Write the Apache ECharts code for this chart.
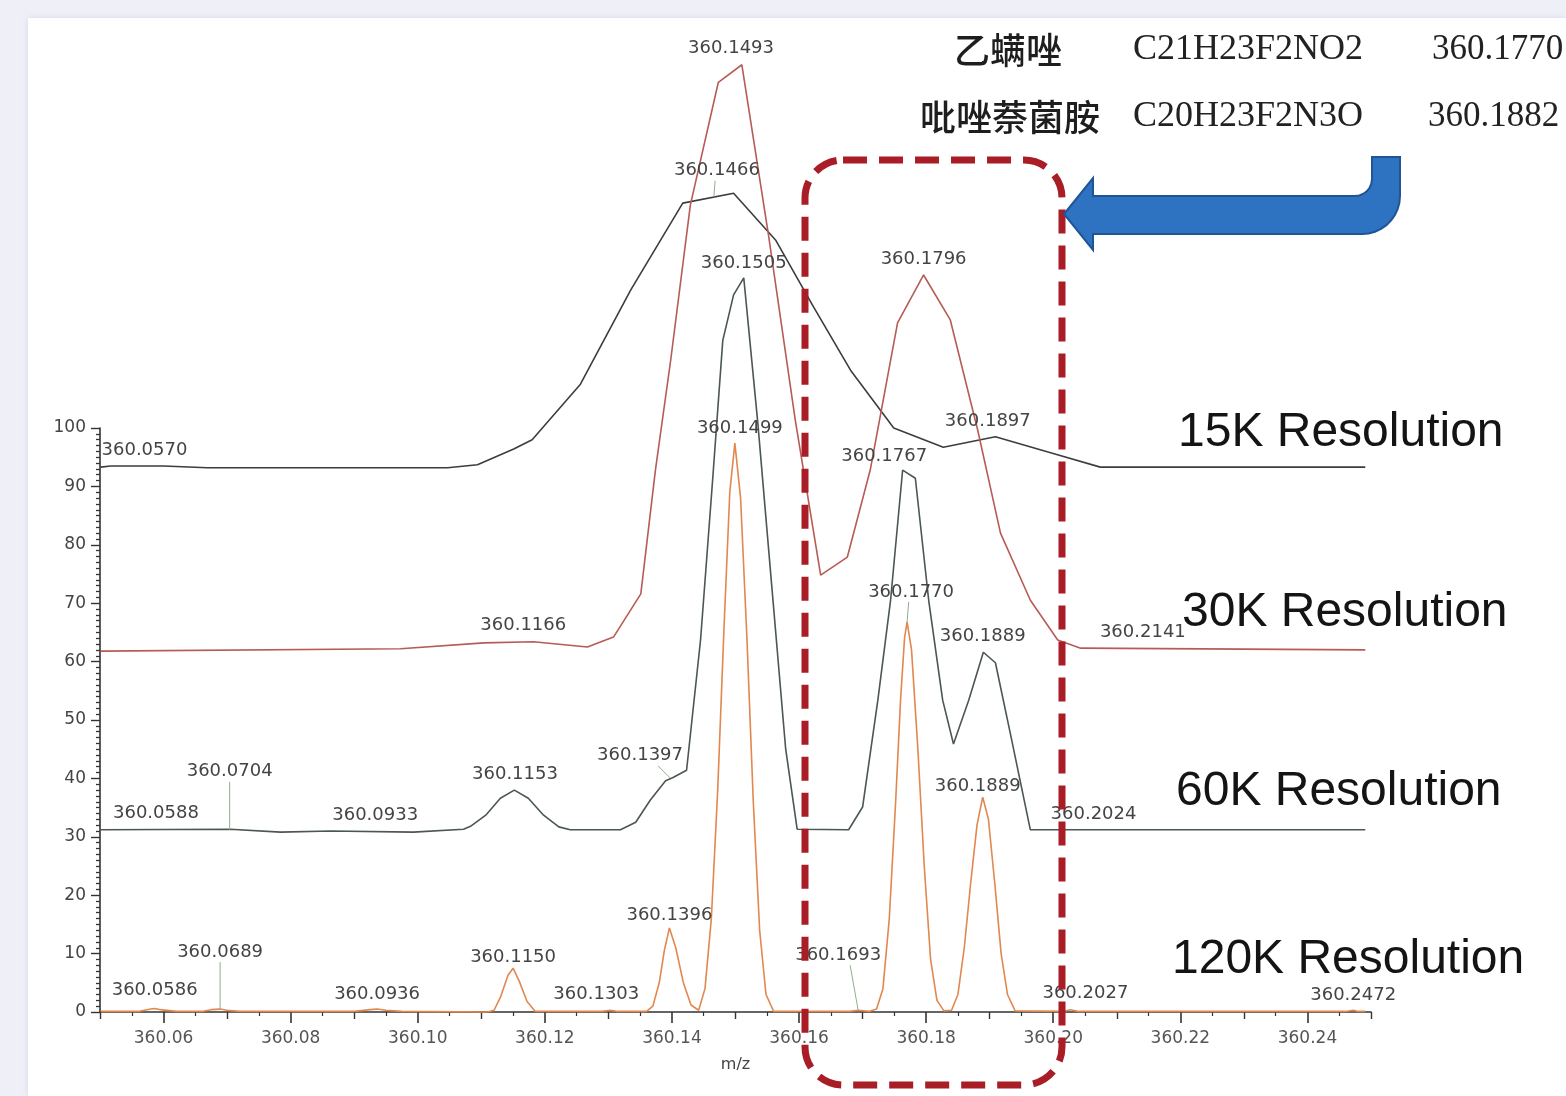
<!DOCTYPE html>
<html><head><meta charset="utf-8">
<script src="https://cdn.jsdelivr.net/npm/echarts@6/dist/echarts.min.js"></script>
<style>
html,body{margin:0;padding:0;width:1566px;height:1096px;overflow:hidden;background:#eff0f7;}
#panel{position:absolute;left:28px;top:18px;right:0;bottom:0;background:#fff;box-shadow:0 0 6px rgba(170,170,200,0.35);}
#chart{position:absolute;left:0;top:0;width:1566px;height:1096px;}
</style></head><body><div id="panel"></div><div id="chart"></div>
<script>
// ---------- DATA ----------
const resolutions = ['15K Resolution', '30K Resolution', '60K Resolution', '120K Resolution'];

const trace15K = [[360.0501,93.3],[360.0517,93.5],[360.0600,93.5],[360.0669,93.2],[360.1047,93.2],[360.1094,93.7],
  [360.1151,96.4],[360.1180,98.0],[360.1256,107.5],[360.1335,123.6],[360.1417,138.5],[360.1497,140.2],[360.1563,132.2],
  [360.1623,120.7],[360.1681,109.9],[360.1749,100.0],[360.1827,96.7],[360.1909,98.5],[360.2004,95.5],[360.2074,93.3],[360.2491,93.3]];

const trace30K = [[360.0501,61.8],[360.0973,62.2],[360.1104,63.2],[360.1182,63.4],[360.1267,62.5],[360.1308,64.2],
  [360.1351,71.6],[360.1374,92.8],[360.1398,111.6],[360.1429,138.2],[360.1473,159.2],[360.1510,162.2],[360.1552,133.0],
  [360.1594,101.4],[360.1634,74.8],[360.1676,77.9],[360.1712,92.8],[360.1755,118.0],[360.1796,126.2],[360.1838,118.5],
  [360.1881,99.7],[360.1917,82.0],[360.1964,70.5],[360.2007,63.7],[360.2043,62.3],[360.2491,62.0]];

const trace60K = [[360.0501,31.2],[360.0705,31.3],[360.0784,30.8],[360.0863,31.0],[360.0993,30.8],[360.1072,31.3],
  [360.1083,31.8],[360.1107,33.7],[360.1130,36.6],[360.1152,38.0],[360.1174,36.6],[360.1198,33.7],[360.1222,31.7],
  [360.1240,31.2],[360.1319,31.2],[360.1343,32.5],[360.1366,36.3],[360.1390,39.6],[360.1401,40.1],[360.1423,41.4],
  [360.1445,63.7],[360.1464,91.1],[360.1480,115.0],[360.1497,122.8],[360.1513,125.7],[360.1535,101.0],[360.1557,73.0],
  [360.1579,45.0],[360.1597,31.3],[360.1678,31.2],[360.1700,35.1],[360.1724,53.4],[360.1744,70.5],[360.1763,92.8],
  [360.1783,91.4],[360.1804,70.5],[360.1826,53.4],[360.1843,45.9],[360.1867,53.4],[360.1890,61.6],[360.1909,59.8],
  [360.1933,47.4],[360.1964,31.2],[360.2491,31.2]];

const trace120K = [[360.0501,0.1],[360.0560,0.1],[360.0580,0.5],[360.0586,0.6],[360.0595,0.4],[360.0620,0.1],[360.0660,0.1],
  [360.0675,0.4],[360.0689,0.5],[360.0700,0.3],[360.0720,0.1],[360.0900,0.1],[360.0925,0.4],[360.0936,0.5],[360.0950,0.3],
  [360.0975,0.1],[360.1110,0.0],[360.1120,0.3],[360.1130,2.5],[360.1142,6.3],[360.1150,7.5],[360.1160,5.2],[360.1172,1.8],
  [360.1185,0.1],[360.1290,0.1],[360.1303,0.3],[360.1315,0.1],[360.1360,0.1],[360.1370,1.0],[360.1380,5.0],[360.1388,10.5],
  [360.1396,14.4],[360.1406,11.0],[360.1418,5.0],[360.1430,1.2],[360.1442,0.3],[360.1452,4],[360.1462,16],[360.1472,38],
  [360.1482,66],[360.1491,89],[360.1499,97.4],[360.1508,88],[360.1518,64],[360.1528,36],[360.1538,14],[360.1548,3],
  [360.1560,0.1],[360.1680,0.1],[360.1693,0.3],[360.1710,0.1],[360.1722,0.5],[360.1732,4],[360.1742,16],[360.1752,36],
  [360.1760,54],[360.1766,64],[360.1770,66.8],[360.1777,62],[360.1787,45],[360.1797,25],[360.1807,9],[360.1817,2],
  [360.1828,0.2],[360.1840,0.3],[360.1850,3],[360.1860,11],[360.1870,22],[360.1880,32],[360.1889,36.8],[360.1898,33],
  [360.1908,22],[360.1918,10],[360.1928,3],[360.1940,0.2],[360.2015,0.1],[360.2027,0.4],[360.2040,0.1],[360.2460,0.1],
  [360.2472,0.3],[360.2480,0.1],[360.2491,0.1]];

const peaks15K = [[360.0570,93.5],[360.1466,139.6],[360.1897,98.4]];
const peaks30K = [[360.1493,162.2],[360.1166,63.4],[360.1796,126.2],[360.2141,62.2]];
const peaks60K = [[360.0588,31.2],[360.0704,31.2],[360.0933,31.0],[360.1153,38.0],[360.1397,40.1],[360.1505,125.7],
  [360.1767,92.8],[360.1889,61.6],[360.2024,31.2]];
const peaks120K = [[360.0586,0.6],[360.0689,0.5],[360.0936,0.5],[360.1150,7.5],[360.1303,0.3],[360.1396,14.4],
  [360.1499,97.4],[360.1693,0.3],[360.1770,66.8],[360.1889,36.8],[360.2027,0.4],[360.2472,0.3]];

const xTickLabels = [360.06,360.08,360.10,360.12,360.14,360.16,360.18,360.20,360.22,360.24];
const xMidTicks = [360.05,360.07,360.09,360.11,360.13,360.15,360.17,360.19,360.21,360.23,360.25];
const xMinorTicks = [360.055,360.065,360.075,360.085,360.095,360.105,360.115,360.125,360.135,360.145,
  360.155,360.165,360.175,360.185,360.195,360.205,360.215,360.225,360.235,360.245];
const yTickLabels = [0,10,20,30,40,50,60,70,80,90,100];

const compounds = [['乙螨唑','C21H23F2NO2','360.1770'],['吡唑萘菌胺','C20H23F2N3O','360.1882']];

// ---------- STYLE ----------
const colors = ['#3d3d3d', '#b65c55', '#4b5750', '#e0884f'];
const labelTweak = {
  '60K:360.0704': {lift: 58}, '120K:360.0689': {lift: 57}, '120K:360.1693': {lift: 55, dx: -20},
  '60K:360.1397': {lift: 22, dx: -30}, '60K:360.1767': {lift: 14, dx: -21}, '120K:360.1770': {lift: 30, dx: 4},
  '15K:360.1466': {lift: 26, dx: 3}, '60K:360.2024': {lift: 15, dx: 25}, '120K:360.2027': {lift: 16, dx: 15},
  '120K:360.1303': {lift: 16, dx: -14}, '120K:360.1150': {lift: 11}, '120K:360.1396': {lift: 13},
  '120K:360.1889': {lift: 11, dx: -5}, '120K:360.1499': {lift: 15, dx: 5}, '60K:360.1505': {lift: 15, dx: 5},
  '120K:360.0586': {lift: 18}, '120K:360.0936': {lift: 15}, '120K:360.2472': {lift: 15}
};
const labelFont = '18px "DejaVu Sans"';

const chart = echarts.init(document.getElementById('chart'), null, {renderer: 'canvas'});

function lineSeries(name, data, color) {
  return {type: 'line', name, data, clip: false, showSymbol: false, symbol: 'none', silent: true,
    lineStyle: {color, width: 1.6}, z: 3, animation: false};
}
function labelSeries(key, peaks) {
  return {
    type: 'custom', name: key + ' labels', clip: false, silent: true, z: 6, animation: false,
    data: peaks.map(p => [p[0], p[1]]),
    encode: {x: 0, y: 1},
    renderItem(params, api) {
      const p = peaks[params.dataIndex];
      const pt = api.coord([p[0], p[1]]);
      const tw = labelTweak[key + ':' + p[0].toFixed(4)] || {};
      const lift = tw.lift != null ? tw.lift : 16;
      const dx = tw.dx || 0;
      const children = [{type: 'text', x: pt[0] + dx, y: pt[1] - lift,
        style: {text: p[0].toFixed(4), fill: '#444', font: labelFont, align: 'center', verticalAlign: 'middle'}}];
      if (lift > 20) {
        children.push({type: 'line', shape: {x1: pt[0] + dx * 0.4, y1: pt[1] - lift + 10, x2: pt[0], y2: pt[1]},
          style: {stroke: '#8fae8f', lineWidth: 1}});
      }
      return {type: 'group', children};
    }
  };
}

const xBase = {type: 'value', min: 360.05, max: 360.25, position: 'bottom', offset: 0,
  splitLine: {show: false}, axisPointer: {show: false}};

// arrow polygon (annotation)
const arrowPts = [[1372,157],[1400,157],[1400,196]];
for (let a = 0; a <= 90; a += 10) { const r = a * Math.PI / 180; arrowPts.push([1362 + 38 * Math.cos(r), 196 + 38 * Math.sin(r)]); }
arrowPts.push([1093,234],[1093,250],[1064,214],[1093,178],[1093,196],[1355,196]);
for (let a = 90; a >= 0; a -= 15) { const r = a * Math.PI / 180; arrowPts.push([1355 + 17 * Math.cos(r), 179 + 17 * Math.sin(r)]); }

const resY = [433, 613, 792, 960];
const resX = [1178, 1182, 1176, 1172];

const graphics = [
  {type: 'rect', shape: {x: 805, y: 160, width: 257, height: 925, r: 38}, z: 10,
    style: {fill: 'none', stroke: '#a81d26', lineWidth: 7, lineDash: [24, 12]}},
  {type: 'polygon', shape: {points: arrowPts}, z: 10,
    style: {fill: '#2e72c2', stroke: '#1f5495', lineWidth: 2}},
];
resolutions.forEach((t, i) => graphics.push({type: 'text', x: resX[i], y: resY[i], z: 10,
  style: {text: t, font: '48px "Liberation Sans"', fill: '#141414', align: 'left', verticalAlign: 'middle'}}));
compounds.forEach((row, i) => {
  const y = i === 0 ? 50 : 117;
  graphics.push({type: 'text', x: i === 0 ? 1008 : 1100, y, z: 10,
    style: {text: row[0], font: '500 36px "Noto Sans CJK SC"', fill: '#1e1e1e', align: i === 0 ? 'center' : 'right', verticalAlign: 'middle'}});
  graphics.push({type: 'text', x: 1133, y, z: 10,
    style: {text: row[1], font: '36px "Liberation Serif"', fill: '#222', align: 'left', verticalAlign: 'middle'}});
  graphics.push({type: 'text', x: i === 0 ? 1432 : 1428, y, z: 10,
    style: {text: row[2], font: '35px "Liberation Serif"', fill: '#222', align: 'left', verticalAlign: 'middle'}});
});

const option = {
  backgroundColor: 'transparent',
  animation: false,
  grid: {left: 100, right: 195, top: 428, bottom: 84, containLabel: false},
  xAxis: [
    Object.assign({}, xBase, {
      name: 'm/z', nameLocation: 'middle', nameGap: 45,
      nameTextStyle: {color: '#444', fontSize: 16, fontFamily: 'DejaVu Sans'},
      axisLine: {show: true, onZero: false, lineStyle: {color: '#333', width: 1.6}},
      axisTick: {show: true, length: 11, customValues: xTickLabels, lineStyle: {color: '#333', width: 1.6}},
      axisLabel: {show: true, customValues: xTickLabels, formatter: v => Number(v).toFixed(2), margin: 18,
        color: '#555', fontSize: 17, fontFamily: 'DejaVu Sans'}
    }),
    Object.assign({}, xBase, {
      axisLine: {show: false, onZero: false}, axisLabel: {show: false},
      axisTick: {show: true, length: 7, customValues: xMidTicks, lineStyle: {color: '#333', width: 1.4}}
    }),
    Object.assign({}, xBase, {
      axisLine: {show: false, onZero: false}, axisLabel: {show: false},
      axisTick: {show: true, length: 4, customValues: xMinorTicks, lineStyle: {color: '#333', width: 1.2}}
    })
  ],
  yAxis: {
    type: 'value', min: 0, max: 100, interval: 10,
    axisLine: {show: true, lineStyle: {color: '#333', width: 1.6}},
    axisTick: {show: true, length: 9, lineStyle: {color: '#333', width: 1.4}},
    minorTick: {show: true, splitNumber: 10, length: 4, lineStyle: {color: '#333', width: 1.3}},
    axisLabel: {show: true, customValues: yTickLabels, margin: 14, color: '#444', fontSize: 17, fontFamily: 'DejaVu Sans'},
    splitLine: {show: false}
  },
  series: [
    lineSeries(resolutions[0], trace15K, colors[0]),
    lineSeries(resolutions[1], trace30K, colors[1]),
    lineSeries(resolutions[2], trace60K, colors[2]),
    lineSeries(resolutions[3], trace120K, colors[3]),
    labelSeries('15K', peaks15K),
    labelSeries('30K', peaks30K),
    labelSeries('60K', peaks60K),
    labelSeries('120K', peaks120K)
  ],
  graphic: {elements: graphics}
};
chart.setOption(option);
</script></body></html>
